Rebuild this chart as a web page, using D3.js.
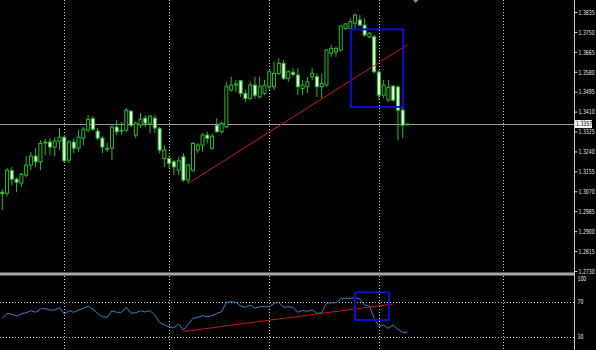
<!DOCTYPE html>
<html>
<head>
<meta charset="utf-8">
<script src="https://cdn.jsdelivr.net/npm/d3@7"></script>
<style>
  body { margin: 0; background: #000; }
  svg { display: block; }
</style>
</head>
<body>
<div id="chart"></div>
<script>
// H4 candles, oldest first
var opens = [1.3066,1.3062,1.3158,1.3122,1.3105,1.3139,1.3182,1.3220,1.3196,1.3276,
             1.3280,1.3259,1.3284,1.3301,1.3203,1.3280,1.3254,1.3297,1.3331,1.3380,
             1.3327,1.3297,1.3254,1.3254,1.3344,1.3327,1.3331,1.3412,1.3310,1.3352,
             1.3382,1.3361,1.3382,1.3338,1.3210,1.3210,1.3196,1.3160,1.3217,1.3118,
             1.3160,1.3246,1.3267,1.3310,1.3254,1.3352,1.3324,1.3345,1.3502,1.3523,
             1.3542,1.3488,1.3466,1.3523,1.3473,1.3488,1.3516,1.3516,1.3573,1.3616,
             1.3552,1.3578,1.3566,1.3509,1.3516,1.3559,1.3559,1.3516,1.3523,1.3659,
             1.3665,1.3673,1.3765,1.3765,1.3787,1.3801,1.3779,1.3729,1.3729,1.3579,
             1.3480,1.3459,1.3519,1.3515,1.3416,1.3355]
var highs = [1.3079,1.3169,1.3173,1.3130,1.3148,1.3220,1.3237,1.3254,1.3288,1.3293,
             1.3297,1.3301,1.3340,1.3310,1.3288,1.3297,1.3331,1.3344,1.3395,1.3391,
             1.3340,1.3305,1.3276,1.3352,1.3374,1.3365,1.3425,1.3416,1.3369,1.3404,
             1.3395,1.3395,1.3395,1.3345,1.3267,1.3224,1.3203,1.3217,1.3232,1.3189,
             1.3281,1.3274,1.3318,1.3324,1.3317,1.3381,1.3366,1.3537,1.3559,1.3545,
             1.3545,1.3502,1.3537,1.3559,1.3559,1.3545,1.3587,1.3623,1.3637,1.3630,
             1.3587,1.3595,1.3595,1.3545,1.3559,1.3595,1.3573,1.3573,1.3676,1.3694,
             1.3687,1.3779,1.3787,1.3808,1.3829,1.3822,1.3808,1.3751,1.3737,1.3587,
             1.3545,1.3545,1.3523,1.3523,1.3431,1.3359]
var lows  = [1.2990,1.3049,1.3096,1.3066,1.3088,1.3130,1.3160,1.3173,1.3160,1.3224,
             1.3224,1.3220,1.3246,1.3190,1.3190,1.3233,1.3237,1.3267,1.3322,1.3327,
             1.3288,1.3233,1.3237,1.3203,1.3310,1.3310,1.3322,1.3344,1.3297,1.3340,
             1.3344,1.3318,1.3318,1.3232,1.3174,1.3169,1.3139,1.3139,1.3110,1.3103,
             1.3153,1.3232,1.3239,1.3274,1.3246,1.3320,1.3317,1.3338,1.3495,1.3493,
             1.3473,1.3452,1.3459,1.3466,1.3466,1.3480,1.3502,1.3502,1.3566,1.3545,
             1.3537,1.3559,1.3480,1.3480,1.3488,1.3545,1.3473,1.3466,1.3516,1.3644,
             1.3644,1.3665,1.3758,1.3758,1.3761,1.3775,1.3729,1.3723,1.3573,1.3459,
             1.3466,1.3452,1.3452,1.3288,1.3296,1.3352]
var closes = [1.3060,1.3160,1.3122,1.3109,1.3143,1.3182,1.3220,1.3196,1.3274,1.3280,
              1.3259,1.3284,1.3301,1.3200,1.3280,1.3254,1.3301,1.3335,1.3377,1.3335,
              1.3297,1.3259,1.3250,1.3344,1.3324,1.3331,1.3416,1.3352,1.3361,1.3378,
              1.3361,1.3391,1.3340,1.3246,1.3246,1.3189,1.3174,1.3200,1.3118,1.3182,
              1.3274,1.3267,1.3310,1.3296,1.3305,1.3324,1.3360,1.3516,1.3523,1.3528,
              1.3488,1.3466,1.3523,1.3480,1.3516,1.3523,1.3580,1.3573,1.3616,1.3552,
              1.3580,1.3569,1.3516,1.3523,1.3537,1.3573,1.3516,1.3530,1.3673,1.3680,
              1.3680,1.3775,1.3784,1.3794,1.3822,1.3779,1.3737,1.3744,1.3580,1.3480,
              1.3523,1.3513,1.3459,1.3416,1.3352,1.3357]

// RSI(14) under the price
var rsi = [51,56.7,55.6,53.7,56,57.4,59.7,57.9,62,62,
           60.5,60.5,63.2,56,59.7,57.9,60.5,62.4,64.7,61.7,
           56.7,52.9,52.1,59.4,57.9,57.9,63.6,56.7,57.4,59.7,
           58.2,59.7,54.8,46.4,43.4,41.4,40.3,44.5,37.6,44.5,
           51,52.1,54,52.9,54,56.7,58.6,69.3,70,69.3,
           65.1,63.6,66.2,62.4,64.3,64.3,64.3,68.1,69.3,63.6,
           64.3,63.6,57.9,60.1,59,60.5,56.7,57.4,68.1,68.7,
           68.7,73.1,73.9,73.9,74.6,73.1,66.2,65.1,51,41.4,
           43.4,39.6,43.4,38.5,35,35]

var priceTicks = [1.3835,1.3750,1.3665,1.3580,1.3495,1.3410,1.3325,1.3240,1.3155,1.3070,1.2985,1.2900,1.2815,1.2730]
var rsiTicks = [100, 70, 30]
var rsiLevels = [70, 30]
var dayBreaks = [13, 35, 56, 79, 105]   // bar index of the dotted separators
var lastPrice = 1.3357

// drawn objects: [bar index, value]
var trendPrice = [[39.1, 1.3105], [85, 1.3696]]
var trendRsi = [[38, 35.9], [82, 67.4]]
var boxPrice = {i0: 73.1, i1: 84.1, top: 1.3761, bottom: 1.3430}
var boxRsi = {i0: 74, i1: 81.1, top: 80.7, bottom: 49.1}

var width = 596, height = 350
var axisX = 574.5
var green = '#2cb82c'
var squeeze = 0.66   // axis font is narrow in the picture

var svg = d3.select('#chart').append('svg')
    .attr('width', width)
    .attr('height', height)
    .style('background', '#000')

var x = d3.scaleLinear().domain([0, 85]).range([2.3, 407.5])
var y = d3.scaleLinear().domain([1.2730, 1.3835]).range([271, 12])
var yr = d3.scaleLinear().domain([30, 70]).range([336.7, 301.7])

var defs = svg.append('defs')
defs.append('clipPath').attr('id', 'clipMain')
    .append('rect').attr('x', 0).attr('y', 0).attr('width', 574).attr('height', 272)
defs.append('clipPath').attr('id', 'clipRsi')
    .append('rect').attr('x', 0).attr('y', 276).attr('width', 574).attr('height', 74)

var bars = d3.range(opens.length).map(function(i) {
    return {i: i, o: opens[i], h: highs[i], l: lows[i], c: closes[i]}
})

//---------------- grid ----------------
svg.append('g').selectAll('line')
    .data(dayBreaks)
    .enter().append('line')
    .attr('x1', function(d) { return Math.round(x(d)) + 0.5 })
    .attr('x2', function(d) { return Math.round(x(d)) + 0.5 })
    .attr('y1', 0).attr('y2', height)
    .attr('stroke', '#cfcfcf')
    .attr('stroke-dasharray', '1,2')

svg.append('g').selectAll('line')
    .data(rsiLevels)
    .enter().append('line')
    .attr('x1', 0).attr('x2', 574)
    .attr('y1', function(d) { return Math.round(yr(d)) + 0.5 })
    .attr('y2', function(d) { return Math.round(yr(d)) + 0.5 })
    .attr('stroke', '#cfcfcf')
    .attr('stroke-dasharray', '1,2')

// last price line
svg.append('line')
    .attr('x1', 0).attr('x2', axisX)
    .attr('y1', Math.round(y(lastPrice)) + 0.5)
    .attr('y2', Math.round(y(lastPrice)) + 0.5)
    .attr('stroke', '#9a9a9a')

//---------------- candles ----------------
var main = svg.append('g').attr('clip-path', 'url(#clipMain)')

var candle = main.selectAll('.candle')
    .data(bars)
    .enter().append('g')
    .attr('class', 'candle')

candle.append('line')
    .attr('x1', function(d) { return x(d.i) })
    .attr('x2', function(d) { return x(d.i) })
    .attr('y1', function(d) { return y(d.h) })
    .attr('y2', function(d) { return y(d.l) })
    .attr('stroke', green)

candle.append('rect')
    .attr('x', function(d) { return x(d.i) - 1.5 })
    .attr('width', 3)
    .attr('y', function(d) { return y(Math.max(d.o, d.c)) })
    .attr('height', function(d) { return Math.max(0.8, Math.abs(y(d.o) - y(d.c))) })
    .attr('fill', function(d) { return d.c >= d.o ? '#000' : '#e8ffe8' })
    .attr('stroke', green)

// trend line and box
main.append('line')
    .attr('x1', x(trendPrice[0][0])).attr('y1', y(trendPrice[0][1]))
    .attr('x2', x(trendPrice[1][0])).attr('y2', y(trendPrice[1][1]))
    .attr('stroke', '#c41a1a')

main.append('rect')
    .attr('x', x(boxPrice.i0)).attr('y', y(boxPrice.top))
    .attr('width', x(boxPrice.i1) - x(boxPrice.i0))
    .attr('height', y(boxPrice.bottom) - y(boxPrice.top))
    .attr('fill', 'none')
    .attr('stroke', '#1010c8')
    .attr('stroke-width', 2)

//---------------- RSI window ----------------
var sub = svg.append('g').attr('clip-path', 'url(#clipRsi)')

sub.append('path')
    .datum(rsi)
    .attr('fill', 'none')
    .attr('stroke', '#3a7fc2')
    .attr('d', d3.line()
        .x(function(d, i) { return x(i) })
        .y(function(d) { return yr(d) }))

sub.append('line')
    .attr('x1', x(trendRsi[0][0])).attr('y1', yr(trendRsi[0][1]))
    .attr('x2', x(trendRsi[1][0])).attr('y2', yr(trendRsi[1][1]))
    .attr('stroke', '#c41a1a')

sub.append('rect')
    .attr('x', x(boxRsi.i0)).attr('y', yr(boxRsi.top))
    .attr('width', x(boxRsi.i1) - x(boxRsi.i0))
    .attr('height', yr(boxRsi.bottom) - yr(boxRsi.top))
    .attr('fill', 'none')
    .attr('stroke', '#1010c8')
    .attr('stroke-width', 2)

// window separator
svg.append('rect')
    .attr('x', 0).attr('y', 272.5)
    .attr('width', axisX).attr('height', 3)
    .attr('fill', '#a8a8a8')

//---------------- axes ----------------
svg.append('line')
    .attr('x1', axisX).attr('x2', axisX)
    .attr('y1', 0).attr('y2', height)
    .attr('stroke', '#c8c8c8')

var priceAxis = svg.append('g')
    .attr('transform', 'translate(' + axisX + ',0)')
    .call(d3.axisRight(y).tickValues(priceTicks).tickSize(3).tickPadding(1)
        .tickFormat(d3.format('.4f')))
priceAxis.select('.domain').remove()
priceAxis.attr('font-family', 'DejaVu Sans').attr('font-size', 7)
priceAxis.selectAll('line').attr('stroke', '#c8c8c8')
priceAxis.selectAll('text')
    .attr('fill', '#e6e6e6')
    .attr('x', 4 / squeeze)
    .attr('transform', 'scale(' + squeeze + ',1)')

var rsiAxis = svg.append('g')
    .attr('transform', 'translate(' + axisX + ',0)')
    .call(d3.axisRight(yr).tickValues(rsiTicks).tickSize(0).tickPadding(3))
rsiAxis.select('.domain').remove()
rsiAxis.attr('font-family', 'DejaVu Sans').attr('font-size', 7)
rsiAxis.selectAll('text')
    .attr('fill', '#e6e6e6')
    .attr('x', 3 / squeeze)
    .attr('transform', 'scale(' + squeeze + ',1)')
    .attr('y', function(d) { return d == 100 ? 3 : 0 })

// last price tag
var tag = svg.append('g').attr('transform', 'translate(' + (axisX + 0.5) + ',' + y(lastPrice) + ')')
tag.append('rect')
    .attr('x', 0).attr('y', -4)
    .attr('width', 17).attr('height', 8)
    .attr('fill', '#f4f4f4')
tag.append('text')
    .attr('x', 1 / squeeze).attr('dy', '0.32em')
    .attr('transform', 'scale(' + squeeze + ',1)')
    .attr('font-family', 'DejaVu Sans').attr('font-size', 7)
    .attr('fill', '#000')
    .text(d3.format('.4f')(lastPrice))

// chart shift marker
svg.append('path')
    .attr('d', 'M413,0 L418.5,0 L415.7,3 Z')
    .attr('fill', '#8a8a8a')
</script>
</body>
</html>
